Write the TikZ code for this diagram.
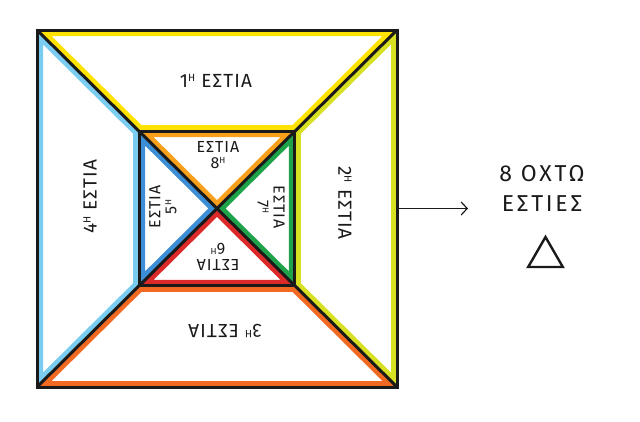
\documentclass[tikz,border=0pt]{standalone}
\usepackage{fontspec}
\setmainfont{Fira Sans}[LetterSpace=6]
\usetikzlibrary{arrows.meta, calc, shapes.geometric}

\definecolor{hearthTop}{HTML}{FFE200}
\definecolor{hearthRight}{HTML}{D7E021}
\definecolor{hearthBottom}{HTML}{F26A21}
\definecolor{hearthLeft}{HTML}{7ACCF0}
\definecolor{coreTop}{HTML}{F8A01C}
\definecolor{coreRight}{HTML}{1FA34A}
\definecolor{coreBottom}{HTML}{DC2A2A}
\definecolor{coreLeft}{HTML}{3C8FD6}
\definecolor{ink}{HTML}{1A1A1A}

% small raised H after the number
\newcommand{\ordH}[1]{#1\raisebox{\dimexpr\fontcharht\font`1-0.55\fontcharht\font`Η\relax}{\scalebox{0.55}{Η}}}

\begin{document}
\begin{tikzpicture}[
  x=1pt, y=-1pt,
  band/.style={line width=12pt, line join=miter},
  wall/.style={draw=ink, line width=3pt, line join=miter},
  outerlbl/.style={font=\fontsize{19}{21}\selectfont, text=ink, inner sep=0pt},
  innerlbl/.style={font=\fontsize{16}{16}\selectfont, text=ink, align=center, inner sep=0pt},
  >={Straight Barb[length=6pt, width=13pt]}
]
  \useasboundingbox (0,0) rectangle (640,421);

  \coordinate (A) at (37,30);
  \coordinate (B) at (397,30);
  \coordinate (C) at (397,387);
  \coordinate (D) at (37,387);
  \coordinate (O) at ($(A)!0.5!(C)$);
  \coordinate (a) at ($(O)!0.433!(A)$);
  \coordinate (b) at ($(O)!0.433!(B)$);
  \coordinate (c) at ($(O)!0.433!(C)$);
  \coordinate (d) at ($(O)!0.433!(D)$);
  \coordinate (E) at ($(B)!0.5!(C)$);
  \coordinate (tip) at (468,208.5);

  % coloured bands inside each hearth
  \foreach \p/\q/\r/\s/\col in {A/B/b/a/hearthTop, B/C/c/b/hearthRight,
                                C/D/d/c/hearthBottom, D/A/a/d/hearthLeft}{
    \begin{scope}
      \clip (\p) -- (\q) -- (\r) -- (\s) -- cycle;
      \draw[band, draw=\col] (\p) -- (\q) -- (\r) -- (\s) -- cycle;
    \end{scope}
  }
  \foreach \p/\q/\col in {a/b/coreTop, b/c/coreRight, c/d/coreBottom, d/a/coreLeft}{
    \begin{scope}
      \clip (\p) -- (\q) -- (O) -- cycle;
      \draw[band, draw=\col] (\p) -- (\q) -- (O) -- cycle;
    \end{scope}
  }

  % black walls
  \draw[wall] (A) -- (B) -- (C) -- (D) -- cycle;
  \draw[wall] (a) -- (b) -- (c) -- (d) -- cycle;
  \draw[wall] (A) -- (C);
  \draw[wall] (B) -- (D);

  % labels
  \node[outerlbl] (h1) at (216,81) {\ordH{1} ΕΣΤΙΑ};
  \node[outerlbl, rotate=-90] (h2) at (345,203) {\ordH{2} ΕΣΤΙΑ};
  \node[outerlbl, rotate=180] (h3) at (225,331) {\ordH{3} ΕΣΤΙΑ};
  \node[outerlbl, rotate=90] (h4) at (90,197) {\ordH{4} ΕΣΤΙΑ};
  \node[innerlbl] (h8) at (218,155) {ΕΣΤΙΑ\\\ordH{8}};
  \node[innerlbl, rotate=90] (h5) at (163,207) {ΕΣΤΙΑ\\\ordH{5}};
  \node[innerlbl, rotate=180] (h6) at (218,257) {ΕΣΤΙΑ\\\ordH{6}};
  \node[innerlbl, rotate=-90] (h7) at (271,207) {ΕΣΤΙΑ\\\ordH{7}};

  \node[font=\fontsize{23}{30}\selectfont\addfontfeature{LetterSpace=12}, text=ink,
        align=center, inner sep=0pt] (count) at (542,188) {8 ΟΧΤΩ\\ΕΣΤΙΕΣ};
  \node[regular polygon, regular polygon sides=3, draw=ink, line width=2.4pt,
        minimum size=40pt, inner sep=0pt] (tri) at (545.5,257) {};

  \draw[->, draw=ink, line width=1.2pt] (E) -- (tip);
\end{tikzpicture}
\end{document}
